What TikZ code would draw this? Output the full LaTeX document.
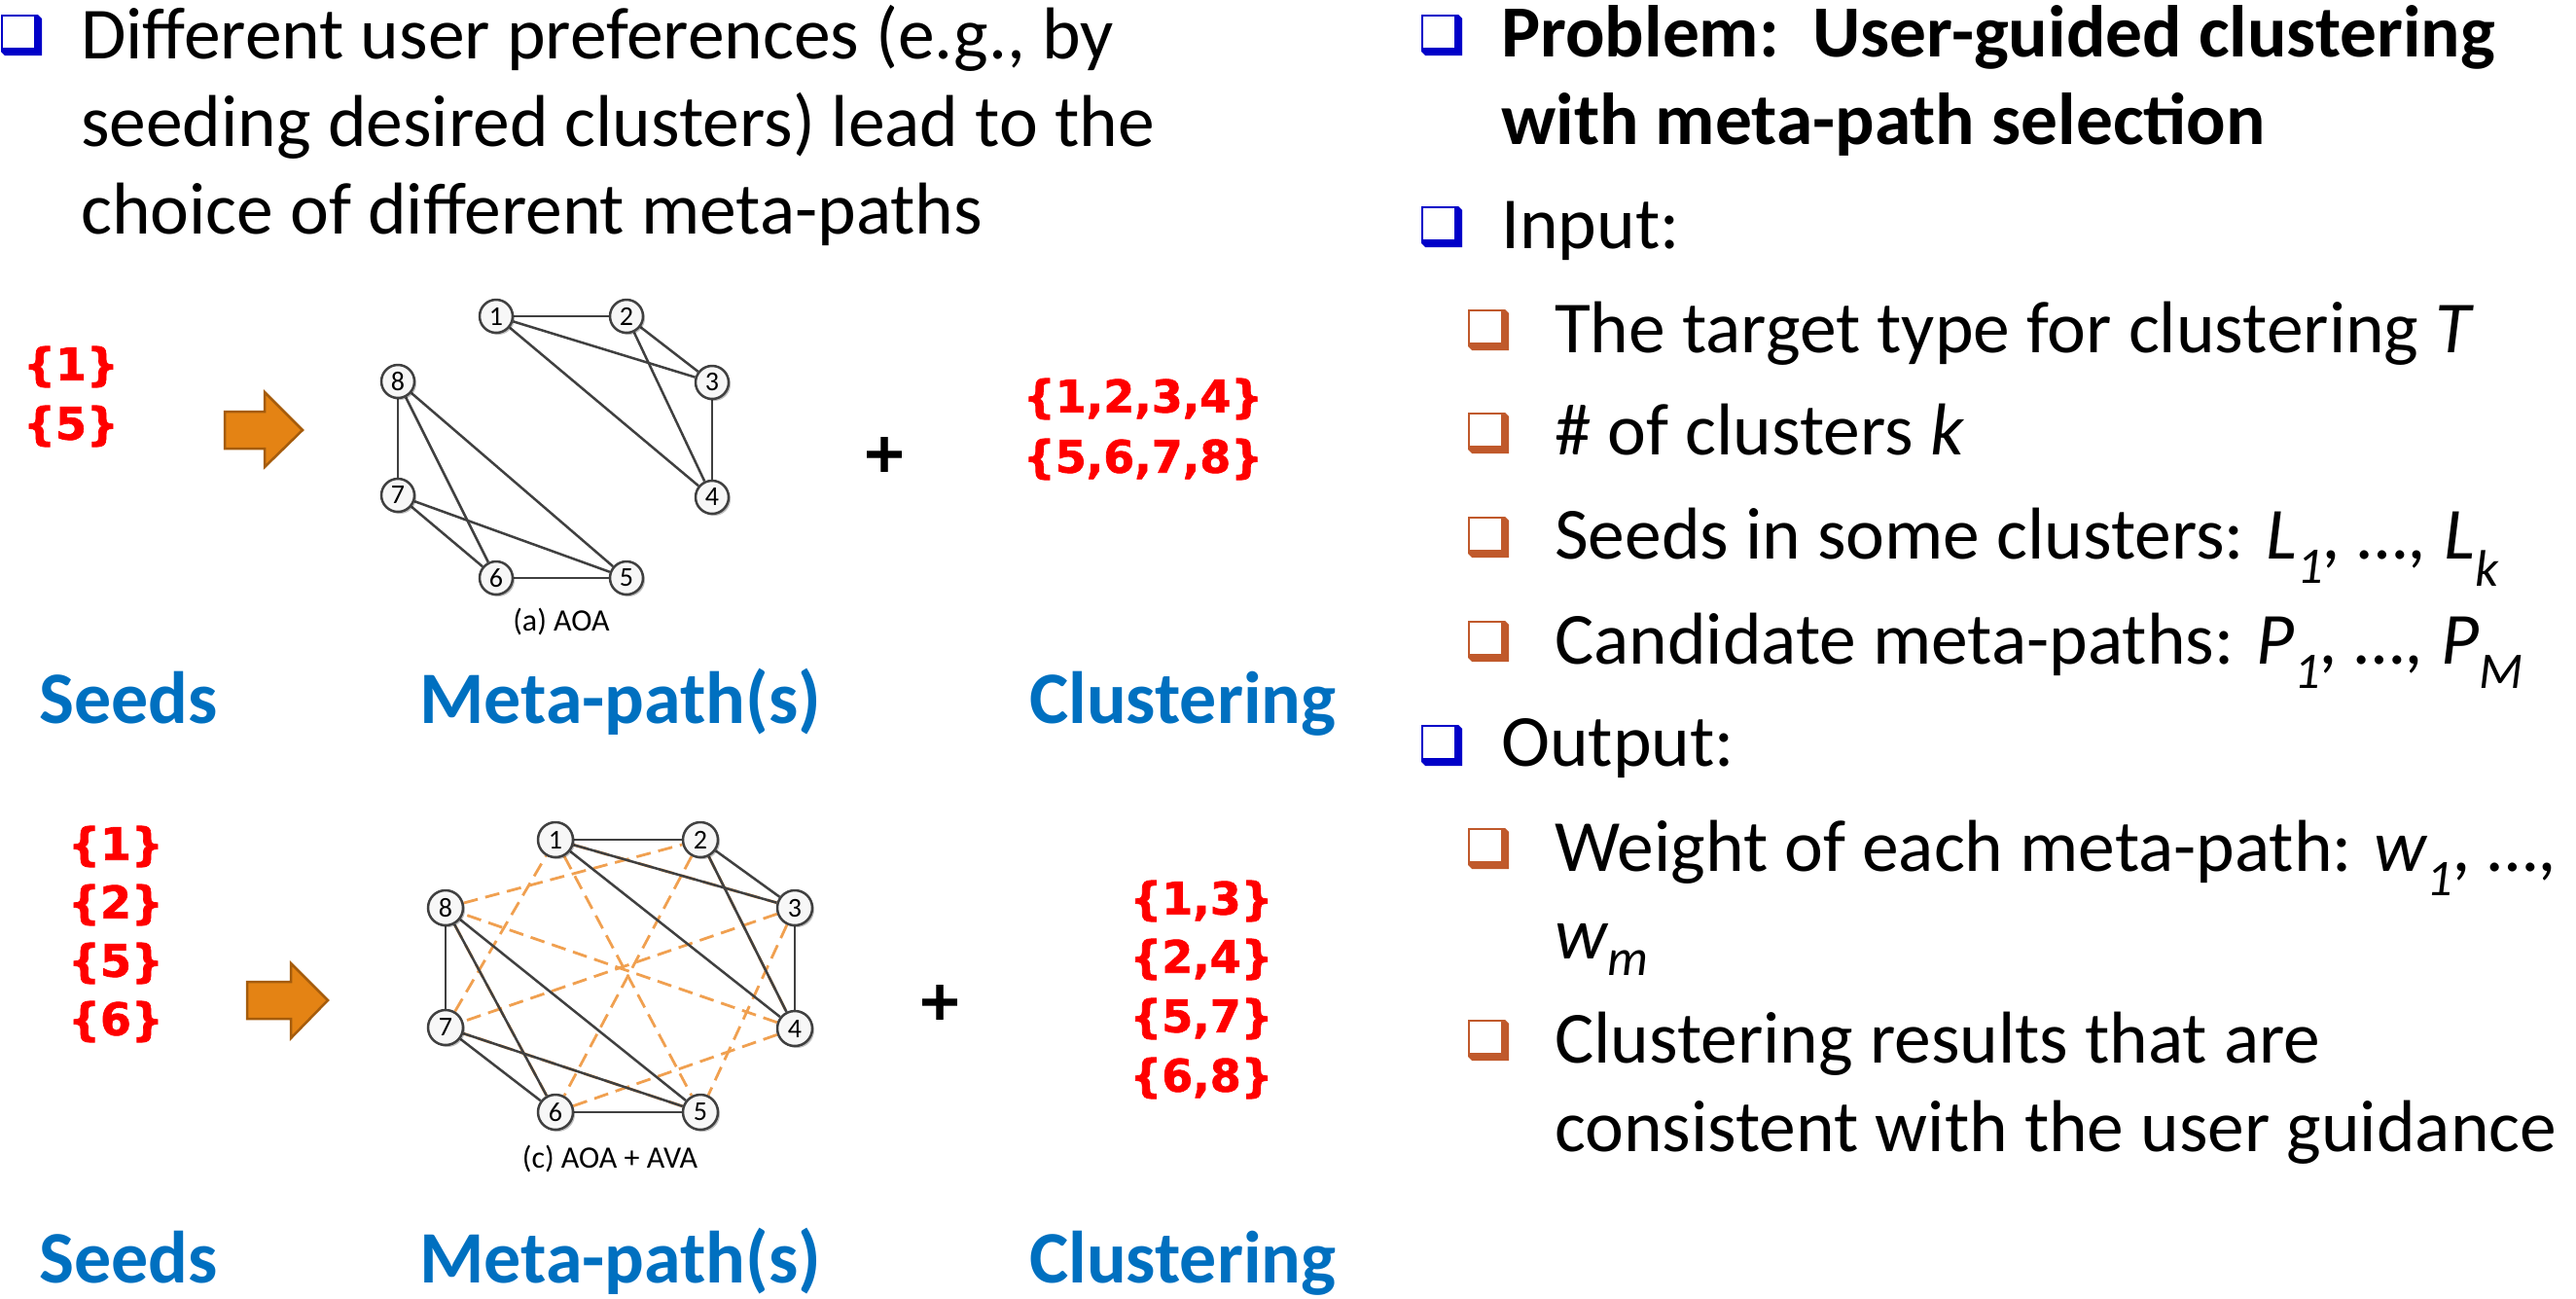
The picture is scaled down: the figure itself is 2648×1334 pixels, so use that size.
\documentclass[tikz,border=0pt]{standalone}
\usepackage{fontspec}
\setmainfont{Carlito}
\newfontfamily\verd{DejaVu Sans Bold}[FakeBold=1.5]
\usetikzlibrary{shadows,backgrounds}
\definecolor{bulblue}{HTML}{0000C8}
\definecolor{bulor}{HTML}{C0592B}
\definecolor{lblue}{HTML}{0070C0}
\definecolor{edgegray}{HTML}{404040}
\definecolor{dashor}{HTML}{F0A050}
\definecolor{arrfill}{HTML}{E48314}
\definecolor{arrdraw}{HTML}{A55C0C}
\tikzset{
  pics/bul/.style={code={
    \fill[#1] (0,0) -- (38,0) -- (42,4) -- (42,42) -- (4,42) -- (0,38) -- cycle;
    \fill[white] (2,2) rectangle (34,34);
  }},
  txt/.style={anchor=base west, inner sep=0pt, font=\fontsize{75.5}{90}\selectfont},
  btxt/.style={anchor=base west, inner sep=0pt, font=\fontsize{75.5}{90}\selectfont\bfseries},
  hdr/.style={anchor=base west, inner sep=0pt, text=lblue, font=\fontsize{76}{95}\selectfont\bfseries},
  seed/.style={inner sep=0pt, text=red, font=\verd\fontsize{46}{60}\selectfont},
  plussign/.style={inner sep=0pt, font=\verd\fontsize{56}{60}\selectfont},
  gnode/.style={circle, draw=edgegray, line width=2.5pt, fill=gray!6, minimum size=#1, inner sep=0pt,
    font=\fontsize{28}{30}\selectfont,
    drop shadow={shadow xshift=2pt, shadow yshift=-2pt, opacity=0.25, fill=black}},
  gedge/.style={draw=edgegray, line width=2.5pt},
  aedge/.style={draw=dashor, line width=2.8pt, dash pattern=on 15pt off 8pt},
  capt/.style={anchor=base, inner sep=0pt, font=\fontsize{32}{34}\selectfont},
  bigarrow/.style={fill=arrfill, draw=arrdraw, line width=2.5pt, line join=miter},
}
\begin{document}
\begin{tikzpicture}[x=1pt,y=-1pt]
\useasboundingbox (0,0) rectangle (2648,1334);

% ---------- left text ----------
\pic at (1,15) {bul=bulblue};
\node[txt] (l1) at (83,60) {Different user preferences (e.g., by};
\node[txt] (l2) at (83,150) {seeding desired clusters) lead to the};
\node[txt] (l3) at (83,240) {choice of different meta-paths};

% ---------- top row ----------
\node[seed] (ts1) at (73,377) {\{1\}};
\node[seed] (ts5) at (73,438) {\{5\}};
\draw[bigarrow] (231,423) -- (272,423) -- (272,403) -- (311,442) -- (272,480) -- (272,461) -- (231,461) -- cycle;

\node[gnode=34pt] (a1) at (510,325) {1};
\node[gnode=34pt] (a2) at (644,325) {2};
\node[gnode=34pt] (a3) at (732,393) {3};
\node[gnode=34pt] (a4) at (732,511) {4};
\node[gnode=34pt] (a5) at (644,594) {5};
\node[gnode=34pt] (a6) at (510,594) {6};
\node[gnode=34pt] (a7) at (409,509) {7};
\node[gnode=34pt] (a8) at (409,392) {8};
\begin{scope}[on background layer]
  \foreach \u/\v in {1/2,1/3,1/4,2/3,2/4,3/4,8/7,8/6,8/5,7/6,7/5,6/5}
    \draw[gedge] (a\u) -- (a\v);
\end{scope}
\node[capt] (capa) at (577,648) {(a) AOA};

\node[plussign] (tplus) at (909,467) {+};
\node[seed] (tc1) at (1175,410) {\{1,2,3,4\}};
\node[seed] (tc2) at (1175,472) {\{5,6,7,8\}};

\node[hdr] (th1) at (40,743) {Seeds};
\node[hdr] (th2) at (431,743) {Meta-path(s)};
\node[hdr] (th3) at (1058,743) {Clustering};

% ---------- bottom row ----------
\node[seed] (bs1) at (119,870) {\{1\}};
\node[seed] (bs2) at (119,930) {\{2\}};
\node[seed] (bs5) at (119,990) {\{5\}};
\node[seed] (bs6) at (119,1050) {\{6\}};
\draw[bigarrow] (254,1009) -- (299,1009) -- (299,990) -- (337,1028) -- (299,1067) -- (299,1047) -- (254,1047) -- cycle;

\node[gnode=36pt] (b1) at (571,863) {1};
\node[gnode=36pt] (b2) at (720,863) {2};
\node[gnode=36pt] (b3) at (817,933) {3};
\node[gnode=36pt] (b4) at (817,1057) {4};
\node[gnode=36pt] (b5) at (720,1143) {5};
\node[gnode=36pt] (b6) at (571,1143) {6};
\node[gnode=36pt] (b7) at (458,1056) {7};
\node[gnode=36pt] (b8) at (458,933) {8};
\begin{scope}[on background layer]
  \foreach \u/\v in {1/3,2/4,3/5,4/6,5/7,6/8,7/1,8/2,1/5,2/6,3/7,4/8}
    \draw[aedge] (b\u) -- (b\v);
  \foreach \u/\v in {1/2,1/3,1/4,2/3,2/4,3/4,8/7,8/6,8/5,7/6,7/5,6/5}
    \draw[gedge] (b\u) -- (b\v);
\end{scope}
\node[capt] (capc) at (627,1200) {(c) AOA + AVA};

\node[plussign] (bplus) at (966,1030) {+};
\node[seed] (bc1) at (1235,926) {\{1,3\}};
\node[seed] (bc2) at (1235,986) {\{2,4\}};
\node[seed] (bc3) at (1235,1047) {\{5,7\}};
\node[seed] (bc4) at (1235,1108) {\{6,8\}};

\node[hdr] (bh1) at (40,1318) {Seeds};
\node[hdr] (bh2) at (431,1318) {Meta-path(s)};
\node[hdr] (bh3) at (1058,1318) {Clustering};

% ---------- right text ----------
\pic at (1461,15) {bul=bulblue};
\node[btxt] (r1) at (1543,58) {Problem:\ \ User-guided clustering};
\node[btxt] (r2) at (1543,148) {with meta-path selection};
\pic at (1461,212) {bul=bulblue};
\node[txt] (r3) at (1543,255) {Input:};
\pic at (1509,318) {bul=bulor};
\node[txt] (r4) at (1598,362) {The target type for clustering \textit{T}};
\pic at (1509,424) {bul=bulor};
\node[txt] (r5) at (1598,467) {\# of clusters \textit{k}};
\pic at (1509,531) {bul=bulor};
\node[txt] (r6) at (1598,574) {Seeds in some clusters: \textit{L\textsubscript{1}, …, L\textsubscript{k}}};
\pic at (1509,638) {bul=bulor};
\node[txt] (r7) at (1598,682) {Candidate meta-paths: \textit{P\textsubscript{1}, …, P\textsubscript{M}}};
\pic at (1461,745) {bul=bulblue};
\node[txt] (r8) at (1543,787) {Output:};
\pic at (1509,851) {bul=bulor};
\node[txt] (r9) at (1598,895) {Weight of each meta-path: \textit{w\textsubscript{1}, …,}};
\node[txt] (r10) at (1598,985) {\textit{w\textsubscript{m}}};
\pic at (1509,1048) {bul=bulor};
\node[txt] (r11) at (1598,1092) {Clustering results that are};
\node[txt] (r12) at (1598,1183) {consistent with the user guidance};
\end{tikzpicture}
\end{document}
